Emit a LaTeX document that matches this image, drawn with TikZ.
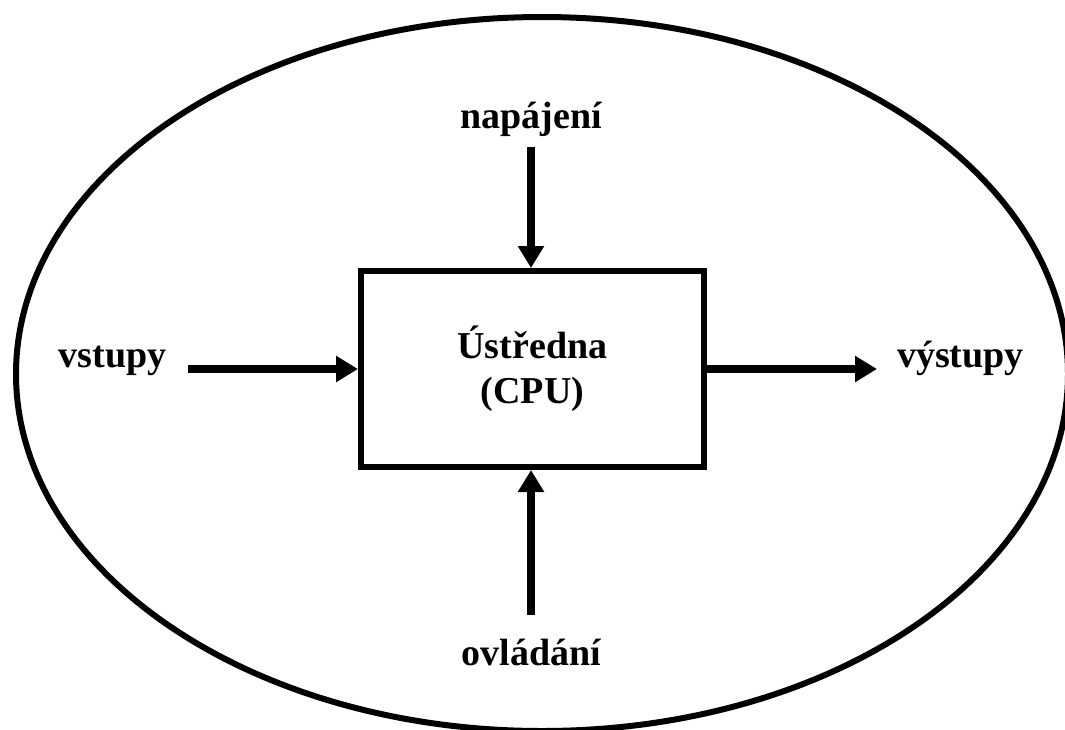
\documentclass[tikz,border=0pt]{standalone}
\usepackage{fontspec}
\setmainfont{Liberation Serif}
\usetikzlibrary{arrows.meta}
\begin{document}
\begin{tikzpicture}[x=1pt,y=-1pt,
  lbl/.style={font=\fontsize{38}{45}\selectfont\bfseries, inner sep=0pt, anchor=base},
  cpubox/.style={draw, line width=6pt, minimum width=343pt, minimum height=196pt,
    inner sep=0pt, align=center, font=\fontsize{38}{45}\selectfont\bfseries},
  flow/.style={line width=8pt, line cap=butt, -{Triangle[width=25pt,length=22pt]}}]
  \useasboundingbox (0,0) rectangle (1065,729);

  % surrounding system boundary
  \draw[line width=6pt] (542,374) ellipse [x radius=526pt, y radius=357pt];

  % central unit
  \node[cpubox] (cpu) at (532.5,369) {Ústředna\\(CPU)};

  % labels
  \node[lbl] (nap) at (531,128) {napájení};
  \node[lbl] (ovl) at (531.5,665) {ovládání};
  \node[lbl] (vst) at (112.5,367) {vstupy};
  \node[lbl] (vys) at (960.5,367) {výstupy};

  % arrow start / end points
  \coordinate (napS) at (531,147);
  \coordinate (ovlS) at (531,615);
  \coordinate (vstS) at (188,369);
  \coordinate (vysE) at (877,369);

  % connectors
  \draw[flow] (napS) -- (cpu.north -| napS);
  \draw[flow] (ovlS) -- (cpu.south -| ovlS);
  \draw[flow] (vstS) -- (cpu.west |- vstS);
  \draw[flow] (cpu.east |- vysE) -- (vysE);
\end{tikzpicture}
\end{document}
